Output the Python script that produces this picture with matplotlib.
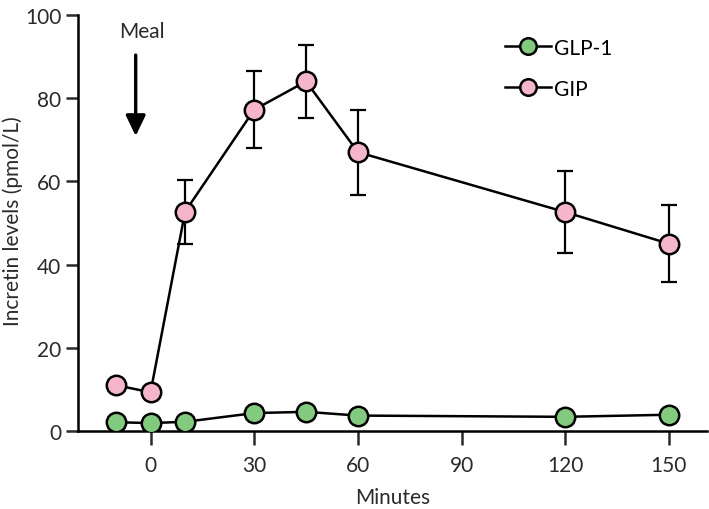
import numpy as np
import matplotlib.pyplot as plt

plt.rcParams['font.family'] = ['Lato', 'DejaVu Sans']

minutes = [-10, 0, 10, 30, 45, 60, 120, 150]
glp1 = [2.1, 1.9, 2.2, 4.3, 4.6, 3.7, 3.4, 3.9]
gip = [11.0, 9.3, 52.7, 77.2, 84.0, 67.0, 52.6, 45.0]
gip_err = [0, 0, 7.7, 9.2, 8.8, 10.2, 9.8, 9.2]

fig = plt.figure(figsize=(7.09, 5.10), dpi=100)
ax = fig.add_axes([0.110, 0.153, 0.887, 0.816])

# GIP with error bars
ax.errorbar(minutes, gip, yerr=[e if e > 0 else np.nan for e in gip_err],
            fmt='none', ecolor='black', elinewidth=1.6, capsize=6, capthick=1.6, zorder=2)
ax.plot(minutes, glp1, '-o', color='black', lw=1.8, ms=14, mfc='#82cb7e',
        mec='black', mew=1.8, label='GLP-1', zorder=3)
ax.plot(minutes, gip, '-o', color='black', lw=1.8, ms=14, mfc='#f5b6cc',
        mec='black', mew=1.8, label='GIP', zorder=3)

ax.set_xlim(-21, 161)
ax.set_ylim(0, 100)
ax.set_xticks([0, 30, 60, 90, 120, 150])
ax.set_yticks([0, 20, 40, 60, 80, 100])
ax.spines['top'].set_visible(False)
ax.spines['right'].set_visible(False)
for s in ['left', 'bottom']:
    ax.spines[s].set_linewidth(1.8)
ax.tick_params(width=1.8, labelsize=15, colors='#2a2a2a')
ax.tick_params(axis='x', length=10, pad=7)
ax.tick_params(axis='y', length=9, pad=3)
ax.set_xlabel('Minutes', fontsize=15, color='#2a2a2a', labelpad=9)
ax.set_ylabel('Incretin levels (pmol/L)', fontsize=15, color='#2a2a2a')
ax.yaxis.set_label_coords(-0.088, 0.507)

# Meal arrow
ax.text(-2.6, 98.6, 'Meal', ha='center', va='top', fontsize=15, color='#2a2a2a')
ax.annotate('', xy=(-4.3, 70.2), xytext=(-4.3, 91),
            arrowprops=dict(arrowstyle='-|>,head_width=0.6,head_length=1.25',
                            color='black', lw=2.4))

ax.legend(loc='upper left', bbox_to_anchor=(0.649, 0.99), frameon=False, fontsize=15,
          handlelength=2.2, labelspacing=1.0, handletextpad=0.15, markerscale=0.85)

fig.savefig('out.png', dpi=100)
